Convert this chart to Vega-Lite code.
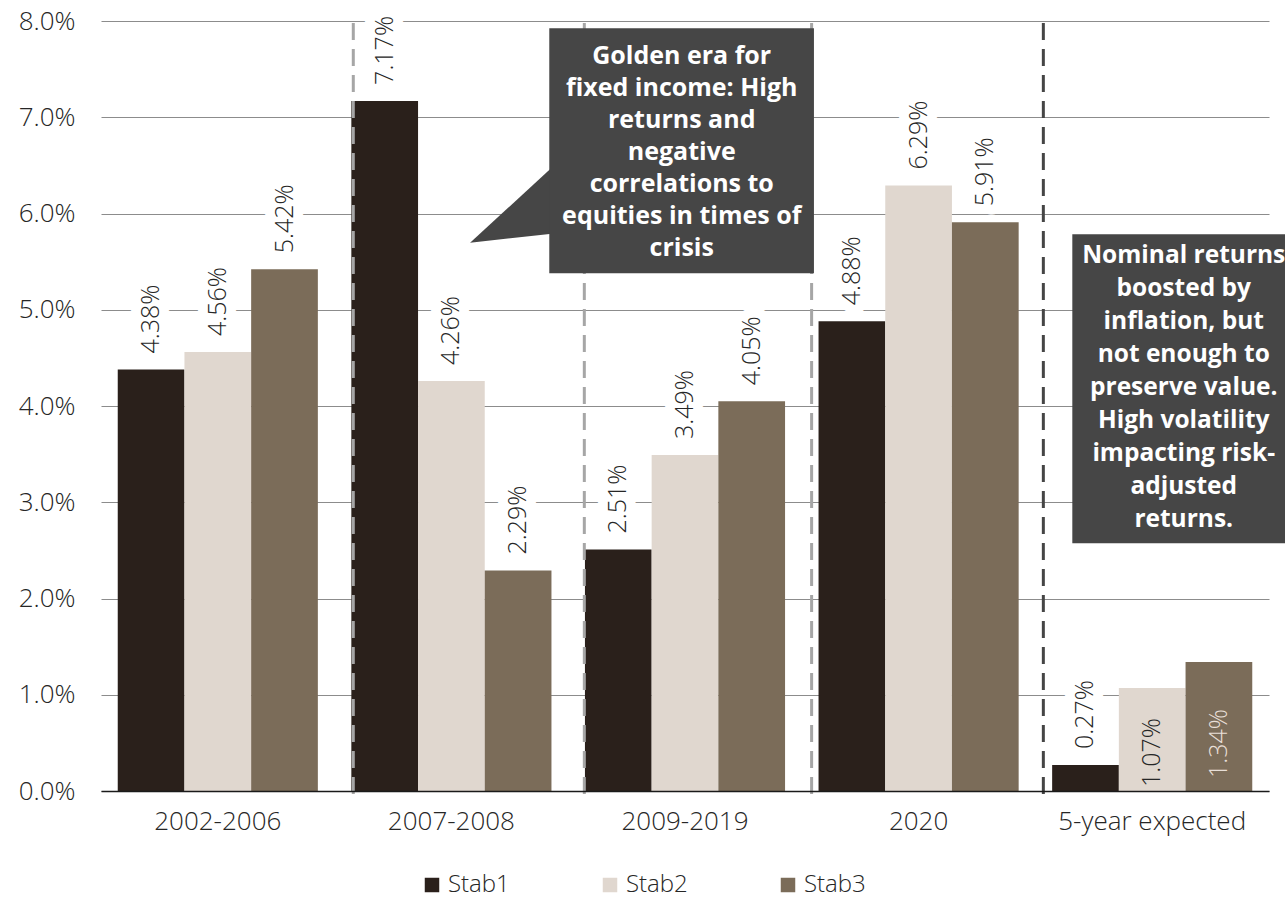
{
  "$schema": "https://vega.github.io/schema/vega-lite/v6.json",
  "width": 1168,
  "height": 770,
  "autosize": {"type": "none"},
  "padding": {"left": 101, "top": 21, "right": 16, "bottom": 109},
  "background": "white",
  "config": {"view": {"stroke": null}, "font": "Open Sans"},
  "datasets": {
    "returns": [
      {"period": "2002-2006", "series": "Stab1", "value": 4.38},
      {"period": "2002-2006", "series": "Stab2", "value": 4.56},
      {"period": "2002-2006", "series": "Stab3", "value": 5.42},
      {"period": "2007-2008", "series": "Stab1", "value": 7.17},
      {"period": "2007-2008", "series": "Stab2", "value": 4.26},
      {"period": "2007-2008", "series": "Stab3", "value": 2.29},
      {"period": "2009-2019", "series": "Stab1", "value": 2.51},
      {"period": "2009-2019", "series": "Stab2", "value": 3.49},
      {"period": "2009-2019", "series": "Stab3", "value": 4.05},
      {"period": "2020", "series": "Stab1", "value": 4.88},
      {"period": "2020", "series": "Stab2", "value": 6.29},
      {"period": "2020", "series": "Stab3", "value": 5.91},
      {"period": "5-year expected", "series": "Stab1", "value": 0.27},
      {"period": "5-year expected", "series": "Stab2", "value": 1.07},
      {"period": "5-year expected", "series": "Stab3", "value": 1.34}
    ],
    "dividers": [
      {"at": 1.080, "era": "historic"},
      {"at": 2.069, "era": "historic"},
      {"at": 3.042, "era": "historic"},
      {"at": 4.034, "era": "forecast"}
    ],
    "pointer": [
      {"x": 1.580, "top": 5.697, "bottom": 5.697},
      {"x": 1.950, "top": 6.521, "bottom": 5.795}
    ]
  },
  "resolve": {"scale": {"x": "independent"}},
  "layer": [
    {
      "data": {"name": "returns"},
      "mark": {"type": "bar"},
      "encoding": {
        "x": {
          "field": "period", "type": "nominal", "sort": null,
          "scale": {"domain": ["2002-2006", "2007-2008", "2009-2019", "2020", "5-year expected"], "paddingInner": 0, "paddingOuter": 0},
          "axis": {
            "title": null, "ticks": false, "grid": false, "labelAngle": 0, "labelLimit": 400,
            "labelPadding": 17, "labelFontSize": 26, "labelFontWeight": 300,
            "labelColor": "#262626", "domainColor": "#1a1a1a", "domainWidth": 1.5,
            "zindex": 1
          }
        },
        "xOffset": {
          "field": "series", "type": "nominal",
          "scale": {"domain": ["Stab1", "Stab2", "Stab3"], "paddingInner": 0, "paddingOuter": 0.251}
        },
        "y": {
          "field": "value", "type": "quantitative",
          "scale": {"domain": [0, 8], "nice": false, "zero": true},
          "axis": {
            "title": null, "values": [0, 1, 2, 3, 4, 5, 6, 7, 8],
            "labelExpr": "format(datum.value, '.1f') + '%'",
            "domain": false, "ticks": false, "grid": true,
            "gridColor": "#8c8c8c", "gridWidth": 1.2,
            "labelFontSize": 26, "labelFontWeight": 300, "labelColor": "#262626",
            "labelPadding": 26, "zindex": 0
          }
        },
        "color": {
          "field": "series", "type": "nominal",
          "scale": {"domain": ["Stab1", "Stab2", "Stab3"], "range": ["#2a201b", "#e0d7cf", "#7b6c59"]},
          "legend": {
            "orient": "none", "legendX": 319, "legendY": 852,
            "direction": "horizontal", "columns": 3, "title": null,
            "symbolType": "square", "symbolSize": 210, "symbolStrokeWidth": 0,
            "labelFontSize": 24, "labelFontWeight": 300, "labelColor": "#262626",
            "labelLimit": 300, "labelOffset": 4, "columnPadding": 88, "padding": 0
          }
        }
      }
    },
    {
      "data": {"name": "dividers"},
      "mark": {"type": "rule", "strokeWidth": 3, "strokeDash": [17, 9], "clip": false},
      "encoding": {
        "x": {"field": "at", "type": "quantitative", "scale": {"domain": [0, 5], "nice": false, "zero": false}, "axis": null},
        "y": {"datum": 7.98, "type": "quantitative", "title": null},
        "y2": {"datum": -0.07},
        "stroke": {
          "field": "era", "type": "nominal",
          "scale": {"domain": ["historic", "forecast"], "range": ["#a6a6a6", "#454545"]},
          "legend": null
        }
      }
    },
    {
      "data": {"name": "returns"},
      "transform": [
        {"filter": "!(datum.period == '5-year expected' && datum.series != 'Stab1')"},
        {"calculate": "format(datum.value, '.2f') + '%'", "as": "label"}
      ],
      "mark": {
        "type": "text", "angle": 270, "align": "left", "baseline": "middle", "dx": 16,
        "fontSize": 25, "fontWeight": 300, "fill": "white", "stroke": "white",
        "strokeWidth": 20, "strokeJoin": "round"
      },
      "encoding": {
        "x": {"field": "period", "type": "nominal", "sort": null, "scale": {"domain": ["2002-2006", "2007-2008", "2009-2019", "2020", "5-year expected"], "paddingInner": 0, "paddingOuter": 0}, "axis": null},
        "xOffset": {"field": "series", "type": "nominal", "scale": {"domain": ["Stab1", "Stab2", "Stab3"], "paddingInner": 0, "paddingOuter": 0.251}},
        "y": {"field": "value", "type": "quantitative", "title": null},
        "text": {"field": "label"}
      }
    },
    {
      "data": {"name": "returns"},
      "transform": [
        {"filter": "!(datum.period == '5-year expected' && datum.series != 'Stab1')"},
        {"calculate": "format(datum.value, '.2f') + '%'", "as": "label"}
      ],
      "mark": {
        "type": "text", "angle": 270, "align": "left", "baseline": "middle", "dx": 16,
        "fontSize": 25, "fontWeight": 300, "fill": "#262626"
      },
      "encoding": {
        "x": {"field": "period", "type": "nominal", "sort": null, "scale": {"domain": ["2002-2006", "2007-2008", "2009-2019", "2020", "5-year expected"], "paddingInner": 0, "paddingOuter": 0}, "axis": null},
        "xOffset": {"field": "series", "type": "nominal", "scale": {"domain": ["Stab1", "Stab2", "Stab3"], "paddingInner": 0, "paddingOuter": 0.251}},
        "y": {"field": "value", "type": "quantitative", "title": null},
        "text": {"field": "label"}
      }
    },
    {
      "data": {"name": "returns"},
      "transform": [
        {"filter": "datum.period == '5-year expected' && datum.series == 'Stab2'"},
        {"calculate": "format(datum.value, '.2f') + '%'", "as": "label"}
      ],
      "mark": {
        "type": "text", "angle": 270, "align": "left", "baseline": "middle", "dx": 4,
        "fontSize": 25, "fontWeight": 300, "fill": "#262626"
      },
      "encoding": {
        "x": {"field": "period", "type": "nominal", "sort": null, "scale": {"domain": ["2002-2006", "2007-2008", "2009-2019", "2020", "5-year expected"], "paddingInner": 0, "paddingOuter": 0}, "axis": null},
        "xOffset": {"field": "series", "type": "nominal", "scale": {"domain": ["Stab1", "Stab2", "Stab3"], "paddingInner": 0, "paddingOuter": 0.251}},
        "y": {"datum": 0, "type": "quantitative", "title": null},
        "text": {"field": "label"}
      }
    },
    {
      "data": {"name": "returns"},
      "transform": [
        {"filter": "datum.period == '5-year expected' && datum.series == 'Stab3'"},
        {"calculate": "format(datum.value, '.2f') + '%'", "as": "label"}
      ],
      "mark": {
        "type": "text", "angle": 270, "align": "left", "baseline": "middle", "dx": 13,
        "fontSize": 25, "fontWeight": 300, "fill": "#e8dfd7"
      },
      "encoding": {
        "x": {"field": "period", "type": "nominal", "sort": null, "scale": {"domain": ["2002-2006", "2007-2008", "2009-2019", "2020", "5-year expected"], "paddingInner": 0, "paddingOuter": 0}, "axis": null},
        "xOffset": {"field": "series", "type": "nominal", "scale": {"domain": ["Stab1", "Stab2", "Stab3"], "paddingInner": 0, "paddingOuter": 0.251}},
        "y": {"datum": 0, "type": "quantitative", "title": null},
        "text": {"field": "label"}
      }
    },
    {
      "data": {"name": "pointer"},
      "mark": {"type": "area", "color": "#464646", "orient": "vertical", "clip": false},
      "encoding": {
        "x": {"field": "x", "type": "quantitative", "scale": {"domain": [0, 5], "nice": false, "zero": false}, "axis": null},
        "y": {"field": "top", "type": "quantitative", "title": null},
        "y2": {"field": "bottom"}
      }
    },
    {
      "data": {"values": [{}]},
      "mark": {"type": "rect", "color": "#464646", "clip": false},
      "encoding": {
        "x": {"datum": 1.919, "type": "quantitative", "scale": {"domain": [0, 5], "nice": false, "zero": false}, "axis": null},
        "x2": {"datum": 3.052},
        "y": {"datum": 7.924, "type": "quantitative", "title": null},
        "y2": {"datum": 5.379}
      }
    },
    {
      "data": {"values": [{}]},
      "mark": {"type": "rect", "color": "#464646", "clip": false},
      "encoding": {
        "x": {"datum": 4.158, "type": "quantitative", "scale": {"domain": [0, 5], "nice": false, "zero": false}, "axis": null},
        "x2": {"datum": 5.3},
        "y": {"datum": 5.784, "type": "quantitative", "title": null},
        "y2": {"datum": 2.574}
      }
    },
    {
      "data": {"values": [{}]},
      "mark": {
        "type": "text", "align": "center", "baseline": "alphabetic", "lineHeight": 32,
        "fontSize": 25, "fontWeight": "bold", "fill": "white", "clip": false,
        "text": ["Golden era for", "fixed income: High", "returns and", "negative", "correlations to", "equities in times of", "crisis"]
      },
      "encoding": {
        "x": {"datum": 2.486, "type": "quantitative", "scale": {"domain": [0, 5], "nice": false, "zero": false}, "axis": null},
        "y": {"datum": 7.55, "type": "quantitative", "title": null}
      }
    },
    {
      "data": {"values": [{}]},
      "mark": {
        "type": "text", "align": "center", "baseline": "alphabetic", "lineHeight": 33,
        "fontSize": 24.5, "fontWeight": "bold", "fill": "white", "clip": false,
        "text": ["Nominal returns", "boosted by", "inflation, but", "not enough to", "preserve value.", "High volatility", "impacting risk-", "adjusted", "returns."]
      },
      "encoding": {
        "x": {"datum": 4.635, "type": "quantitative", "scale": {"domain": [0, 5], "nice": false, "zero": false}, "axis": null},
        "y": {"datum": 5.483, "type": "quantitative", "title": null}
      }
    }
  ]
}
